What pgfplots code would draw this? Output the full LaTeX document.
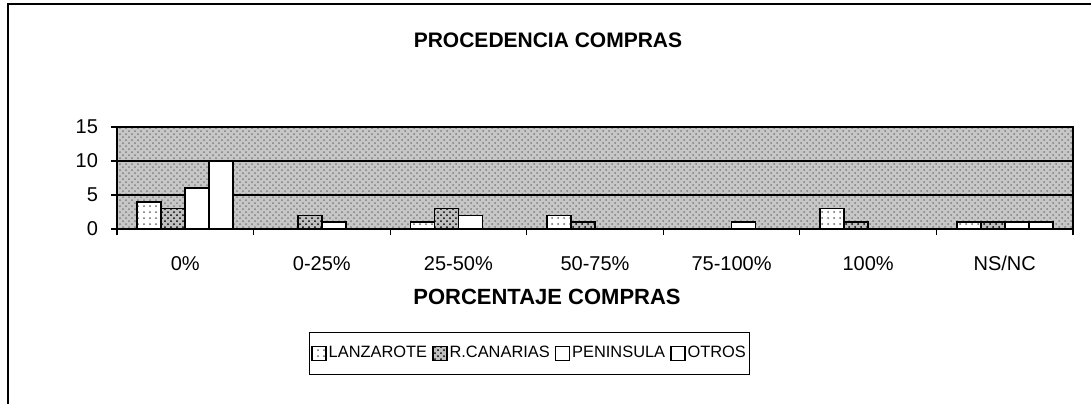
\documentclass[border=0pt]{standalone}
\usepackage{pgfplots}
\pgfplotsset{compat=1.18}
\usepackage{fontspec}
\setmainfont{Liberation Sans}
\usetikzlibrary{patterns}

% values; 0% .. NS/NC at x = 0..6
\pgfplotstableread{
x lanz rcan pen otros
0 4 3 6 10
1 0 2 1 0
2 1 3 2 0
3 2 1 0 0
4 0 0 1 0
5 3 1 0 0
6 1 1 1 1
}\compras

\begin{document}
\begin{tikzpicture}
\useasboundingbox (0pt,0pt) rectangle (545.5pt,202pt);
\draw[line width=0.8pt] (4pt,0pt) -- (4pt,200pt) -- (545.5pt,200pt);
\node[font=\fontsize{10.5}{12}\selectfont\bfseries] at (274pt,182pt) {PROCEDENCIA COMPRAS};
\node[font=\fontsize{11}{13}\selectfont\bfseries] at (273.5pt,53.5pt) {PORCENTAJE COMPRAS};
\begin{axis}[at={(58.5pt,87.5pt)}, anchor=south west,
  scale only axis, width=478pt, height=51pt,
  ybar=0pt, bar width=12pt,
  xmin=-0.5, xmax=6.5, ymin=0, ymax=15,
  xtick={0,...,6}, major x tick style={draw=none},
  minor xtick={-0.5,0.5,...,6.5},
  xticklabels={0\%,0-25\%,25-50\%,50-75\%,75-100\%,100\%,NS/NC},
  ytick={0,5,10,15},
  tick align=outside, tick pos=left,
  minor tick length=3pt, major tick length=3pt,
  tick style={black, line width=0.6pt},
  tick label style={font=\fontsize{10}{12}\selectfont},
  xticklabel style={yshift=-7pt},
  yticklabel style={xshift=-3pt},
  /pgf/number format/assume math mode=true,
  ymajorgrids, grid style={black, line width=1pt},
  axis line style={black, line width=1pt},
  axis background/.style={fill=black!22, postaction={pattern=crosshatch dots, pattern color=black!50}},
  legend columns=4,
  legend style={at={(0.4316,-1.22)}, anchor=center, draw=black, line width=0.6pt,
    font=\fontsize{8.2}{10}\selectfont, inner xsep=1pt, inner ysep=5pt,
    nodes={inner xsep=1pt},
    /tikz/every even column/.append style={column sep=1.5pt}},
  legend image code/.code={\draw[#1, line width=0.7pt] (0pt,-3.5pt) rectangle (7pt,3.5pt);},
]
\addplot[draw=black, line width=0.8pt, fill=white, postaction={pattern=dots, pattern color=black!60}] table[x=x,y=lanz] {\compras};
\addplot[draw=black, line width=0.8pt, fill=black!25, postaction={pattern=crosshatch dots, pattern color=black}] table[x=x,y=rcan] {\compras};
\addplot[draw=black, line width=0.8pt, fill=white] table[x=x,y=pen] {\compras};
\addplot[draw=black, line width=0.8pt, fill=white] table[x=x,y=otros] {\compras};
\legend{LANZAROTE,R.CANARIAS,PENINSULA,OTROS}
\end{axis}
\end{tikzpicture}
\end{document}
